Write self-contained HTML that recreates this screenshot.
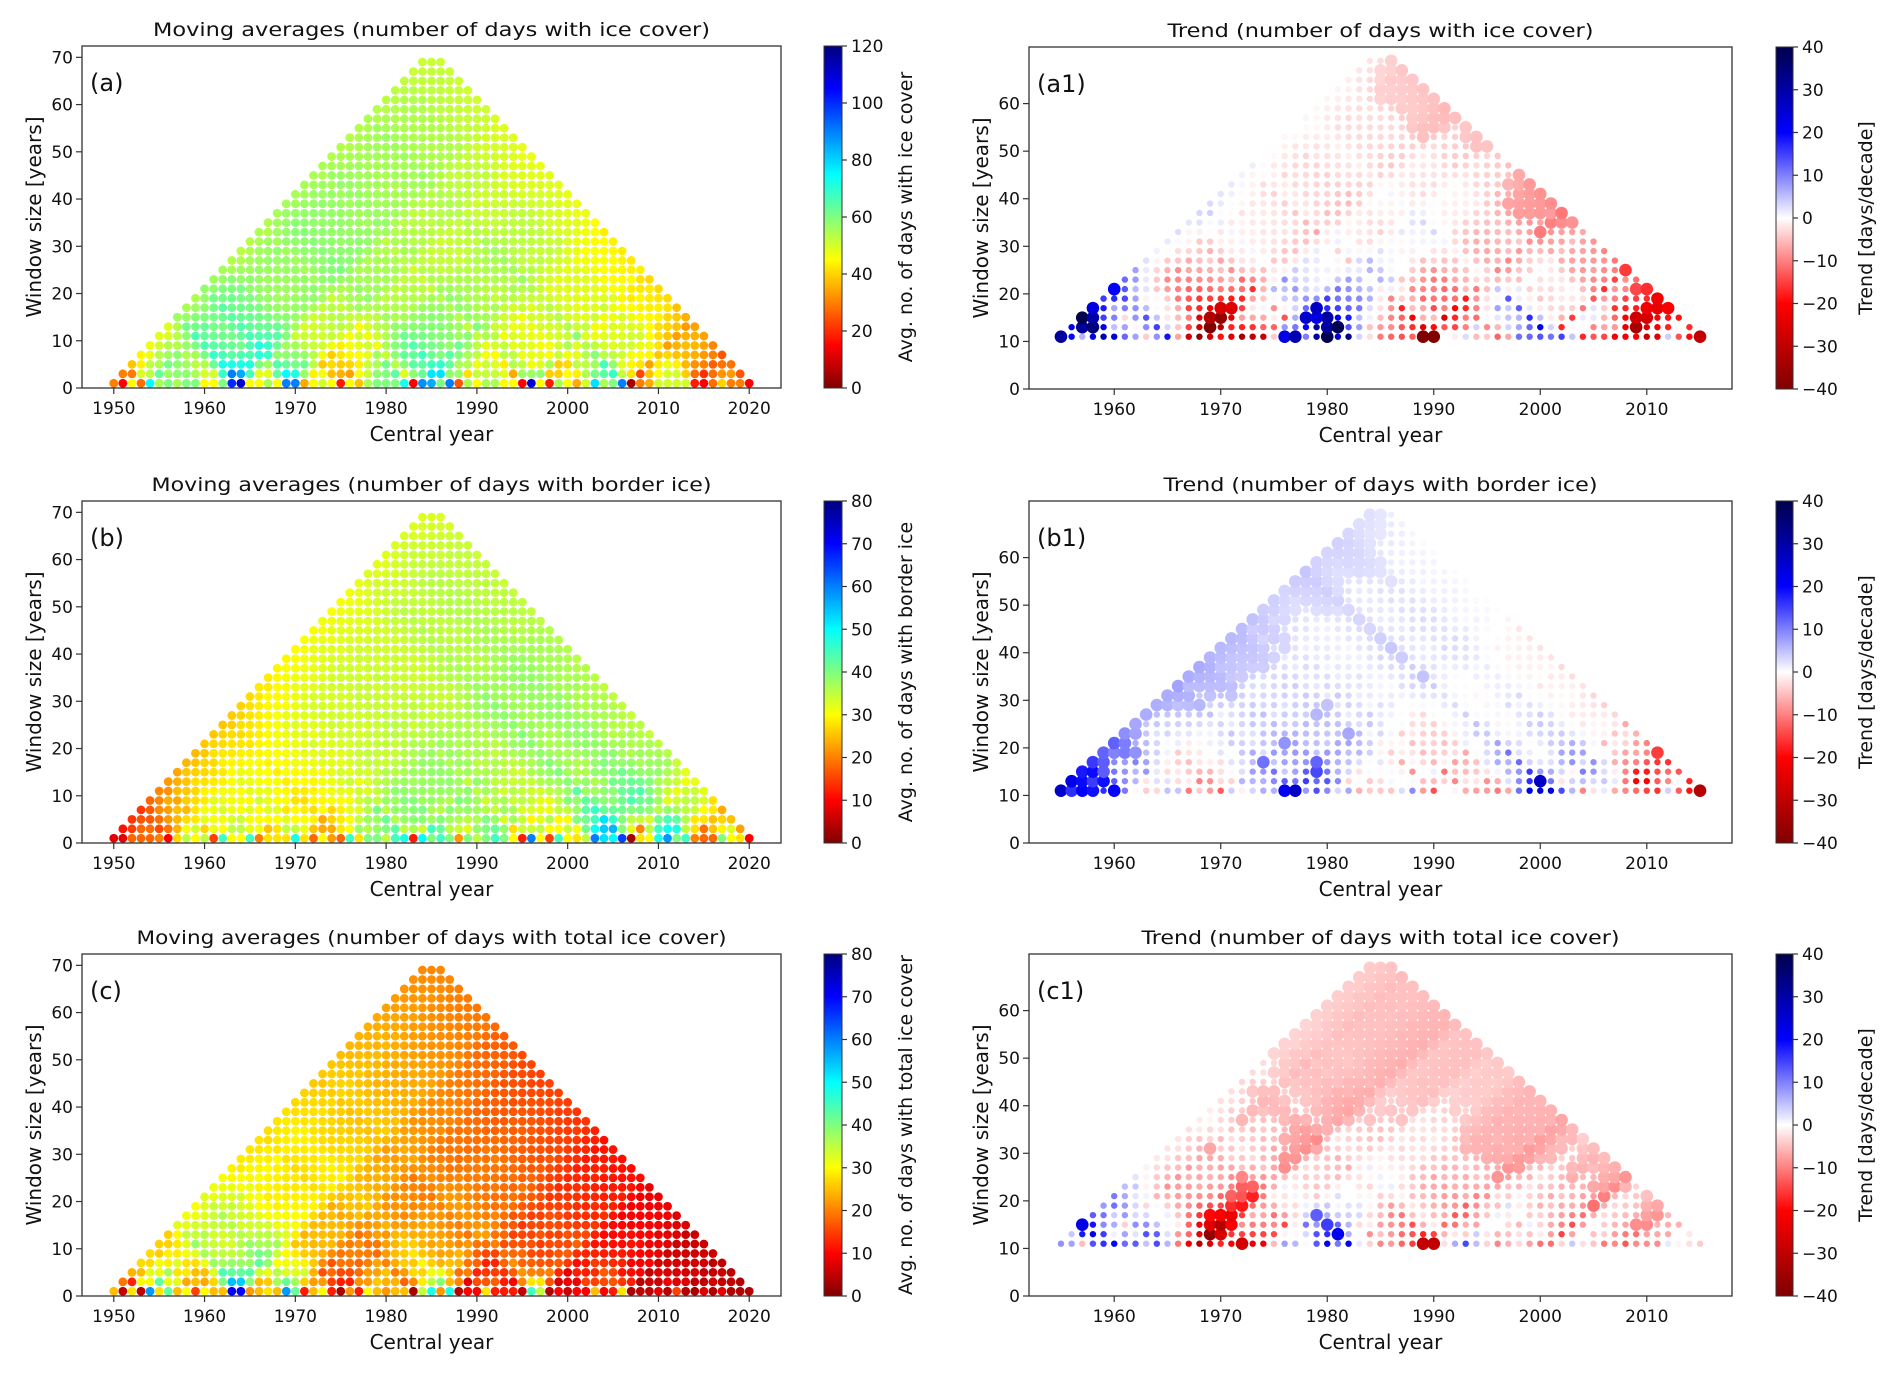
<!DOCTYPE html>
<html><head><meta charset="utf-8">
<style>
html,body{margin:0;padding:0;background:#fff;}
svg{display:block;font-family:"DejaVu Sans","Liberation Sans",sans-serif;}
</style></head>
<body>
<svg id="fig" width="1892" height="1374" viewBox="0 0 1892 1374" xmlns="http://www.w3.org/2000/svg">
<defs id="defs"></defs>
</svg>
<script>
// ---- data: annual series (days), first year 1950 ----
const startYear = 1950;
const iceCover = [30,15,45,28,75,55,60,55,60,60, 45,45,60,100,110,45,45,55,45,90, 90,35,45,50,45,18,45,38,55,60, 60,60,72,15,88,85,60,90,25,55, 45,55,55,45,45,15,110,45,18,55, 45,35,50,78,55,60,90,5,30,35, 50,50,50,50,18,15,28,40,30,30, 15];
const borderIce = [8,8,18,18,18,20,10,27,35,30, 35,15,45,30,30,45,20,28,28,28, 48,28,18,30,22,18,45,28,40,40, 35,45,48,12,50,40,45,40,22,40, 35,40,45,40,30,12,60,30,15,45, 30,28,35,60,52,50,65,3,28,30, 48,58,40,45,20,18,18,40,30,28, 10];
const totalIce = [25,5,28,5,58,28,42,25,30,15, 30,25,25,70,70,22,25,28,25,58, 42,12,25,30,12,3,22,12,30,25, 22,25,25,3,35,48,22,48,4,10, 10,28,12,12,12,5,45,35,4,10, 6,10,10,25,10,12,28,3,5,5, 8,4,15,4,3,8,4,8,4,4, 4];
const leftXTicks = [1950,1960,1970,1980,1990,2000,2010,2020];
const rightXTicks = [1960,1970,1980,1990,2000,2010];
const leftYTicks = [0,10,20,30,40,50,60,70];
const rightYTicks = [0,10,20,30,40,50,60];
const trendTicks = [-40,-30,-20,-10,0,10,20,30,40];
const maTicksA = [0,20,40,60,80,100,120];
const maTicksB = [0,10,20,30,40,50,60,70,80];

const NS = "http://www.w3.org/2000/svg";
const svg = document.getElementById('fig');
const defs = document.getElementById('defs');
function el(tag, attrs, parent){
  const e = document.createElementNS(NS, tag);
  for (const k in attrs) e.setAttribute(k, attrs[k]);
  (parent||svg).appendChild(e);
  return e;
}
function clip01(v){return Math.max(0,Math.min(1,v));}
function jet(t){t=clip01(t);
  const r=clip01(1.5-Math.abs(4*t-3)), g=clip01(1.5-Math.abs(4*t-2)), b=clip01(1.5-Math.abs(4*t-1));
  return `rgb(${Math.round(r*255)},${Math.round(g*255)},${Math.round(b*255)})`;}
function jetR(t){return jet(1-clip01(t));}
function seismicR(v){
  const s = 1-clip01((v+40)/80); let r,g,b;
  if(s<0.25){r=0;g=0;b=0.3+0.7*s/0.25;}
  else if(s<0.5){const u=(s-0.25)/0.25;r=u;g=u;b=1;}
  else if(s<0.75){const u=(s-0.5)/0.25;r=1;g=1-u;b=1-u;}
  else {const u=(s-0.75)/0.25;r=1-0.5*u;g=0;b=0;}
  return `rgb(${Math.round(r*255)},${Math.round(g*255)},${Math.round(b*255)})`;}

function stats(series, c, w){
  const h=(w-1)/2; const n=w; let sy=0;
  for(let i=-h;i<=h;i++){sy+=series[c-startYear+i];}
  const my=sy/n; let sxy=0,sxx=0;
  for(let i=-h;i<=h;i++){const y=series[c-startYear+i];sxy+=i*(y-my);sxx+=i*i;}
  const slope = sxx>0? sxy/sxx : 0;
  let ssr=0;
  for(let i=-h;i<=h;i++){const y=series[c-startYear+i];const f=my+slope*i;ssr+=(y-f)*(y-f);}
  const se = (n>2 && sxx>0) ? Math.sqrt(ssr/(n-2)/sxx) : 1;
  return {mean:my, trend:slope*10, t: se>0? slope/se : 0};
}

function panel(cfg){
  const g = el('g',{});
  
  
  const {L,R,T,B,xmin,xmax,ymax} = cfg;
  const sx = v => L + (v-xmin)/(xmax-xmin)*(R-L);
  const sy = v => B - v/ymax*(B-T);
  const cid = 'clip-'+cfg.name;
  const cp = el('clipPath',{id:cid},defs);
  el('rect',{x:L,y:T,width:R-L,height:B-T},cp);
  const pts = el('g',{'clip-path':`url(#${cid})`},g);
  
  
  const last = startYear + cfg.series.length - 1;
  for(let w=cfg.wmin; w<=69; w+=2){
    const h=(w-1)/2;
    for(let c=startYear+h; c<=last-h; c++){
      const s = stats(cfg.series,c,w);
      let fill, r;
      if(cfg.kind==='ma'){ fill = jetR(s.mean/cfg.vmax); r=4.4; }
      else { fill = seismicR(s.trend); r = Math.abs(s.t)>2.1 ? 6.3 : 3.2; }
      const d = el('circle',{cx:sx(c).toFixed(2),cy:sy(w).toFixed(2),r:r,fill:fill},pts);
      
      
    }
  }
  const fr = el('rect',{x:L,y:T,width:R-L,height:B-T,fill:'none',stroke:'#333','stroke-width':1.3},g);
  
  
  cfg.xticks.forEach(v=>{
    const x=sx(v);
    el('line',{x1:x,y1:B,x2:x,y2:B+6,stroke:'#333','stroke-width':1.2},g);
    const t=el('text',{x:x,y:B+26,'font-size':17,'text-anchor':'middle',fill:'#111'},g);
    t.textContent=v;
    
    
  });
  cfg.yticks.forEach(v=>{
    const y=sy(v);
    el('line',{x1:L-6,y1:y,x2:L,y2:y,stroke:'#333','stroke-width':1.2},g);
    const t=el('text',{x:L-9,y:y+6,'font-size':17,'text-anchor':'end',fill:'#111'},g);
    t.textContent=v;
    
    
  });
  const ti=el('text',{x:(L+R)/2,y:T-10,'font-size':19,'text-anchor':'middle',fill:'#111',textLength:cfg.titleLen,lengthAdjust:'spacingAndGlyphs'},g);
  ti.textContent=cfg.title;
  
  
  const xl=el('text',{x:(L+R)/2,y:B+53,'font-size':20,'text-anchor':'middle',fill:'#111'},g);
  xl.textContent='Central year';
  
  
  const yc=(T+B)/2, yx=L-48;
  const yl=el('text',{x:yx,y:yc,'font-size':20,'text-anchor':'middle','dominant-baseline':'central',fill:'#111',transform:`rotate(-90 ${yx} ${yc})`},g);
  yl.textContent='Window size [years]';
  
  
  const pl=el('text',{x:L+8,y:T+45,'font-size':24,fill:'#111'},g);
  pl.textContent=cfg.label;
  
  
  const gid='grad-'+cfg.name;
  const lg=el('linearGradient',{id:gid,x1:0,y1:1,x2:0,y2:0},defs);
  for(let i=0;i<=40;i++){const f=i/40;
    const col = cfg.kind==='ma'? jetR(f) : seismicR(-40+80*f);
    el('stop',{offset:f,'stop-color':col},lg);}
  const cb=el('rect',{x:cfg.cbL,y:T,width:cfg.cbW,height:B-T,fill:`url(#${gid})`,stroke:'#333','stroke-width':1},g);
  
  
  const cmin=cfg.cticks[0], cmax=cfg.cticks[cfg.cticks.length-1];
  cfg.cticks.forEach(v=>{
    const y=B-(v-cmin)/(cmax-cmin)*(B-T);
    const x=cfg.cbL+cfg.cbW;
    el('line',{x1:x,y1:y,x2:x+5,y2:y,stroke:'#333','stroke-width':1.2},g);
    const t=el('text',{x:x+9,y:y+6,'font-size':17,fill:'#111'},g);
    t.textContent = v<0 ? '\u2212'+(-v) : v;
    
    
  });
  const cx=cfg.cbLabX;
  const cl=el('text',{x:cx,y:yc,'font-size':19,'text-anchor':'middle','dominant-baseline':'central',fill:'#111',transform:`rotate(-90 ${cx} ${yc})`},g);
  cl.textContent=cfg.cbLabel;
  
  
}

const rowTop=[46,501,954];
const H=342;
const leftBase={L:82,R:781,xmin:1946.5,xmax:2023.5,ymax:72.4,xticks:leftXTicks,yticks:leftYTicks,kind:'ma',wmin:1,cbL:824,cbW:18,cbLabX:906};
const rightBase={L:1029,R:1732,xmin:1952,xmax:2018,ymax:71.9,xticks:rightXTicks,yticks:rightYTicks,kind:'trend',wmin:11,cbL:1776,cbW:17,cbLabX:1866,cticks:trendTicks,cbLabel:'Trend [days/decade]'};
panel(Object.assign({},leftBase,{name:'panel-a',T:rowTop[0],B:rowTop[0]+H,series:iceCover,vmax:120,cticks:maTicksA,label:'(a)',title:'Moving averages (number of days with  ice cover)',titleLen:557,cbLabel:'Avg. no. of days with ice cover'}));
panel(Object.assign({},rightBase,{name:'panel-a1',T:rowTop[0]+1,B:rowTop[0]+H+1,series:iceCover,label:'(a1)',title:'Trend (number of days with ice cover)',titleLen:426}));
panel(Object.assign({},leftBase,{name:'panel-b',T:rowTop[1],B:rowTop[1]+H,series:borderIce,vmax:80,cticks:maTicksB,label:'(b)',title:'Moving averages (number of days with border ice)',titleLen:560,cbLabel:'Avg. no. of days with border ice'}));
panel(Object.assign({},rightBase,{name:'panel-b1',T:rowTop[1],B:rowTop[1]+H,series:borderIce,label:'(b1)',title:'Trend (number of days with border ice)',titleLen:434}));
panel(Object.assign({},leftBase,{name:'panel-c',T:rowTop[2],B:rowTop[2]+H,series:totalIce,vmax:80,cticks:maTicksB,label:'(c)',title:'Moving averages (number of days with total ice cover)',titleLen:590,cbLabel:'Avg. no. of days with total ice cover'}));
panel(Object.assign({},rightBase,{name:'panel-c1',T:rowTop[2],B:rowTop[2]+H,series:totalIce,label:'(c1)',title:'Trend (number of days with total ice cover)',titleLen:478}));
</script>
</body></html>
